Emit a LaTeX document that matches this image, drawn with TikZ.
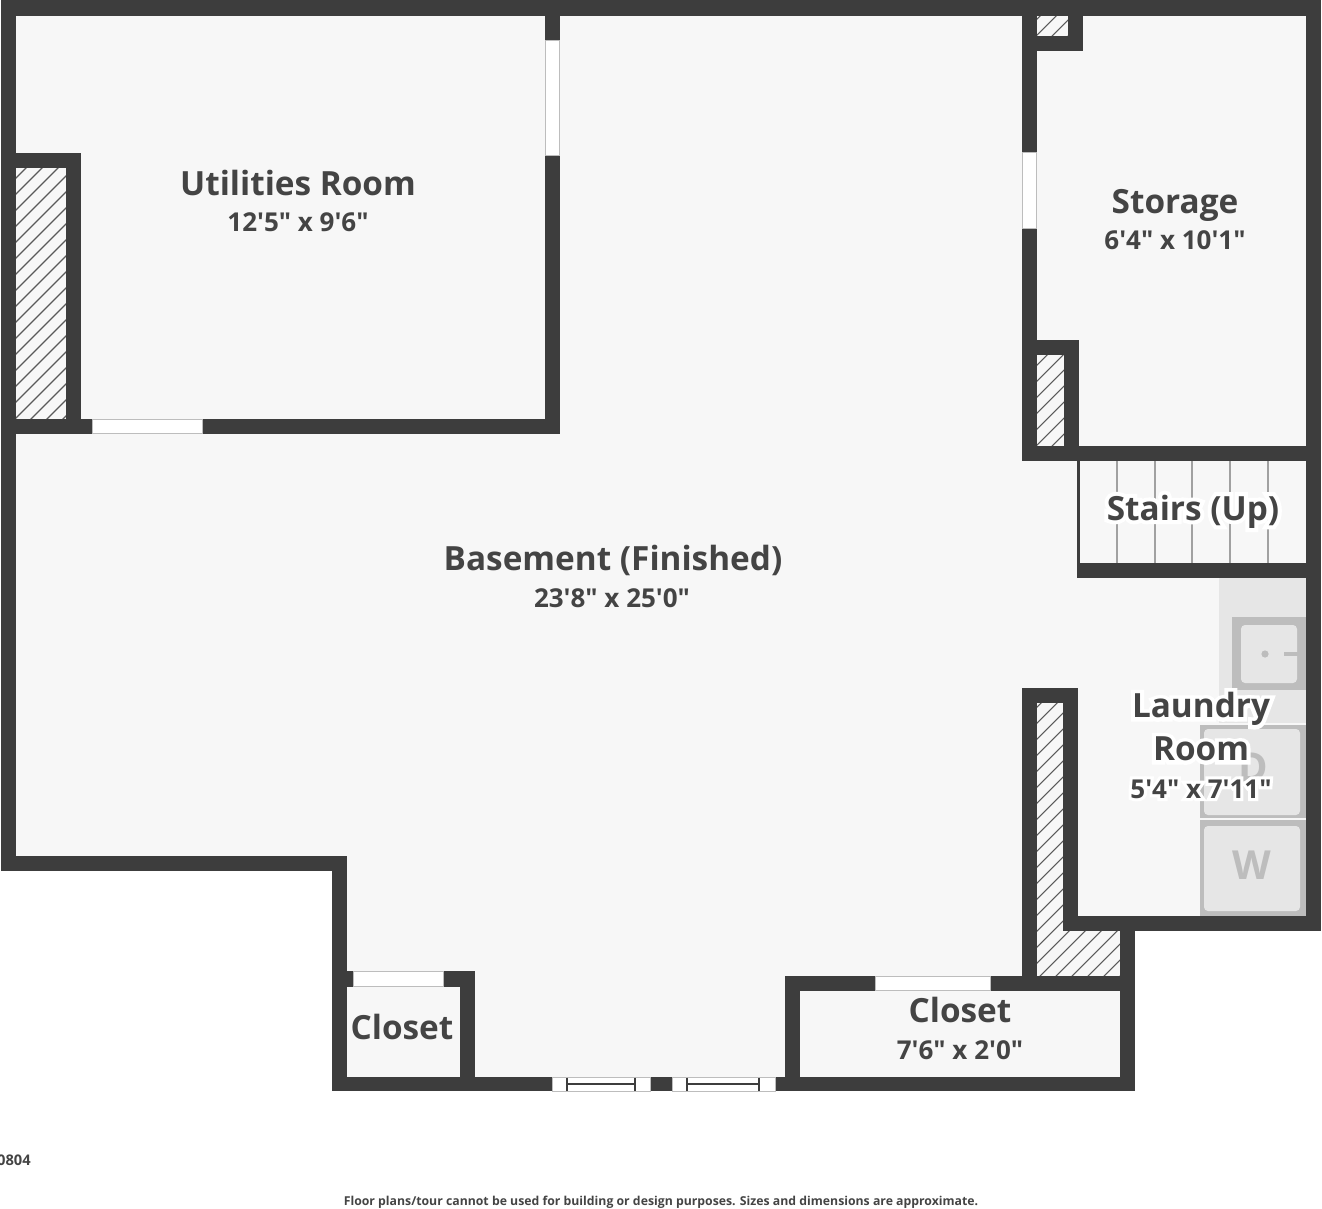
\documentclass[tikz,border=0pt]{standalone}
\usepackage{fontspec}
\usepackage{xcolor}
\newfontfamily\planfont{Open Sans}[BoldFont={Open Sans Bold}]
\definecolor{wallgrey}{HTML}{3D3D3D}
\definecolor{floorgrey}{HTML}{F7F7F7}
\definecolor{inkgrey}{HTML}{444444}
\definecolor{unitgrey}{HTML}{E6E6E6}
\definecolor{edgegrey}{HTML}{BDBDBD}
\newcommand{\halotext}[1]{\leavevmode\rlap{\textcolor{white}{\addfontfeature{FakeBold=24}#1}}#1}
\tikzset{
  wall/.style={fill=wallgrey},
  opening/.style={fill=white,draw=edgegrey,line width=.6pt},
  sashline/.style={draw=wallgrey,line width=.8pt},
  hatchline/.style={draw=wallgrey!85,line width=.8pt},
  stepline/.style={draw=edgegrey!85!black,line width=1.1pt},
  roomname/.style={anchor=base,text=inkgrey,font=\planfont\bfseries\fontsize{25}{32.25}\selectfont,align=center,inner sep=0pt},
  roomsize/.style={anchor=base,text=inkgrey,font=\planfont\bfseries\fontsize{19.5}{24}\selectfont,inner sep=0pt},
  unitbase/.style={fill=unitgrey},
  unitedge/.style={fill=edgegrey},
  unittop/.style={fill=unitgrey,rounded corners=3pt},
  unitletter/.style={text=edgegrey,font=\planfont\bfseries\fontsize{30}{36}\selectfont,inner sep=0pt},
  footnote/.style={text=inkgrey,font=\planfont\bfseries\fontsize{9.2}{11}\selectfont,inner sep=0pt},
  tagnote/.style={text=inkgrey,font=\planfont\bfseries\fontsize{11}{13}\selectfont,inner sep=0pt},
}
\begin{document}
\begin{tikzpicture}[x=.75pt,y=-.75pt]
  \useasboundingbox (0,0) rectangle (1322,1209);
  % floor
  \fill[floorgrey] (1,0) -- (1321,0) -- (1321,931) -- (1135,931) -- (1135,1091)
    -- (332,1091) -- (332,871) -- (1,871) -- cycle;
  % laundry units
  \fill[unitbase] (1219,578) rectangle (1306,723);
  \fill[unitedge] (1232,617) rectangle (1306,690);
  \fill[unittop] (1241,625) rectangle (1297,683);
  \fill[edgegrey] (1265,654) circle (3.6);
  \draw[edgegrey,line width=2.6pt] (1284,654) -- (1298,654);
  \fill[unitedge] (1200,725) rectangle (1306,818);
  \fill[unittop] (1204,729) rectangle (1300,815);
  \fill[unitedge] (1200,820) rectangle (1306,916);
  \fill[unittop] (1204,826) rectangle (1300,911);
  \node[unitletter] (dryer) at (1253,767) {D};
  \node[unitletter] (washer) at (1252,865) {W};
  % hatched chases
  \begin{scope}
    \clip (16,168) rectangle (66,419);
    \foreach \c in {194,210,...,482} \draw[hatchline] (\c,0) -- (0,\c);
  \end{scope}
  \begin{scope}
    \clip (1037,16) rectangle (1068,36);
    \foreach \c in {1056,1072,...,1104} \draw[hatchline] (\c,0) -- (0,\c);
  \end{scope}
  \begin{scope}
    \clip (1037,355) rectangle (1064,446);
    \foreach \c in {1402,1418,...,1514} \draw[hatchline] (\c,0) -- (0,\c);
  \end{scope}
  \begin{scope}
    \clip (1037,703) -- (1063,703) -- (1063,931) -- (1120,931) -- (1120,976) -- (1037,976) -- cycle;
    \foreach \c in {1744,1760,...,2096} \draw[hatchline] (\c,0) -- (0,\c);
  \end{scope}
  % stairs
  \foreach \s in {1117,1155,1192,1230,1268} \draw[stepline] (\s,461) -- (\s,563);
  % walls
  \foreach \xa/\ya/\xb/\yb in {1/0/1321/16, 1/0/16/871, 1306/0/1321/931, 1/856/347/871,
      332/856/347/1091, 332/1077/1135/1091, 1120/927/1135/1091, 1063/916/1321/931,
      545/0/560/434, 1/419/560/434, 16/153/81/168, 66/153/81/434,
      1022/0/1037/461, 1022/36/1083/51, 1068/0/1083/51, 1037/340/1079/355, 1064/340/1079/461,
      1022/446/1321/461, 1077/461/1080/578, 1077/563/1321/578,
      1022/688/1037/991, 1022/688/1078/703, 1063/688/1078/931,
      785/976/1135/991, 785/976/800/1091, 332/971/475/987, 460/971/475/1091}
    \fill[wall] (\xa,\ya) rectangle (\xb,\yb);
  % openings
  \foreach \xa/\ya/\xb/\yb in {545.5/40/559.5/155, 92/419.5/202/433.5, 1022.5/152/1036.5/228,
      875/976.5/990/990.5, 353/971.5/443/986.5, 552/1077.5/650/1091, 672/1077.5/775/1091}
    \draw[opening] (\xa,\ya) rectangle (\xb,\yb);
  % window sashes
  \foreach \xa/\xb in {567/635, 687/759} {
    \draw[sashline] (\xa,1077.5) -- (\xa,1091);
    \draw[sashline] (\xb,1077.5) -- (\xb,1091);
    \draw[sashline] (\xa,1084) -- (\xb,1084);
  }
  % labels
  \node[roomname] (utilname) at (298,196) {Utilities Room};
  \node[roomsize] (utilsize) at (298,232) {12'5" x 9'6"};
  \node[roomname] (storename) at (1175,214) {Storage};
  \node[roomsize] (storesize) at (1175,250) {6'4" x 10'1"};
  \node[roomname] (basename) at (613,570) {Basement (Finished)};
  \node[roomsize] (basesize) at (612,607) {23'8" x 25'0"};
  \node[roomname] (stairname) at (1193,520) {\halotext{Stairs (Up)}};
  \node[roomname,anchor=north] (laundryname) at (1201,692) {\halotext{Laundry}\\\halotext{Room}};
  \node[roomsize] (laundrysize) at (1201,798) {\halotext{5'4" x 7'11"}};
  \node[roomname] (closetleft) at (402,1039) {Closet};
  \node[roomname] (closetname) at (960,1022) {Closet};
  \node[roomsize] (closetsize) at (960,1059) {7'6" x 2'0"};
  \node[tagnote,anchor=east] (plantag) at (31,1160) {0804};
  \node[footnote] (disclaimer) at (661,1202) {Floor plans/tour cannot be used for building or design purposes. Sizes and dimensions are approximate.};
\end{tikzpicture}
\end{document}
